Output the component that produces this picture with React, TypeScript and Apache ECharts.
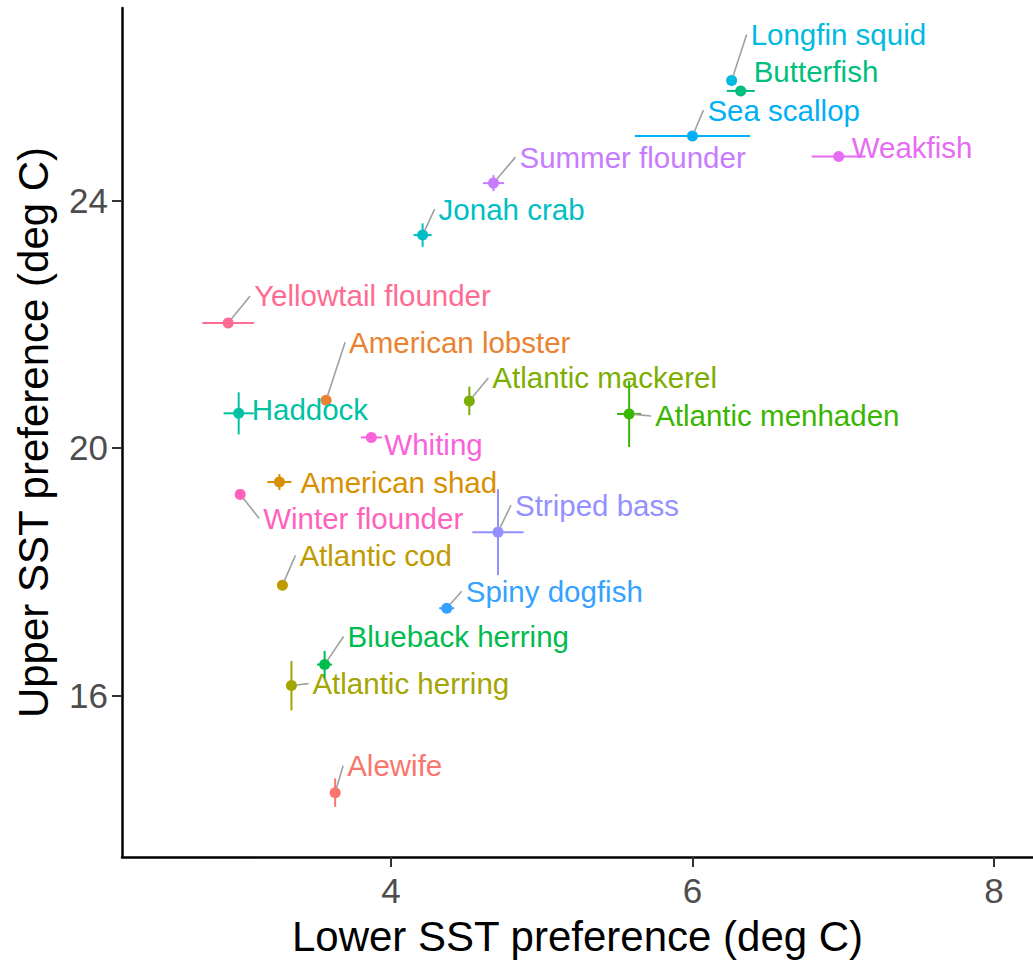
import React, { useEffect, useRef } from "react";
import * as echarts from "echarts";

// Species thermal preference: mean lower and upper SST (deg C) with +/- spread
const species = [
  "Alewife", "American lobster", "American shad", "Atlantic cod", "Atlantic herring",
  "Atlantic mackerel", "Atlantic menhaden", "Blueback herring", "Butterfish", "Haddock",
  "Jonah crab", "Longfin squid", "Sea scallop", "Spiny dogfish", "Striped bass",
  "Summer flounder", "Weakfish", "Whiting", "Winter flounder", "Yellowtail flounder",
];
const lowerPref = [3.63, 3.57, 3.26, 3.28, 3.34, 4.52, 5.58, 3.56, 6.32, 2.99,
  4.21, 6.26, 6.0, 4.37, 4.71, 4.68, 6.97, 3.87, 3.0, 2.92];
const upperPref = [14.43, 20.77, 19.45, 17.78, 16.16, 20.76, 20.55, 16.5, 25.77, 20.56,
  23.44, 25.94, 25.04, 17.41, 18.64, 24.28, 24.71, 20.17, 19.25, 22.02];
const lowerSpread = [0.02, 0.03, 0.08, 0.03, 0.02, 0.02, 0.08, 0.05, 0.093, 0.1,
  0.06, 0.03, 0.382, 0.05, 0.17, 0.07, 0.179, 0.07, 0.02, 0.171];
const upperSpread = [0.23, 0.04, 0.13, 0.05, 0.4, 0.23, 0.535, 0.22, 0.05, 0.34,
  0.19, 0.05, 0.03, 0.08, 0.695, 0.13, 0.03, 0.03, 0.02, 0.03];

const xTicks = [4, 6, 8];
const yTicks = [16, 20, 24];

// ggplot-style hue palette, one colour per species
const palette = [
  "#F8766D", "#EA8331", "#D89000", "#C09B00", "#A3A500", "#7CAE00", "#39B600",
  "#00BB4E", "#00BF7D", "#00C1A3", "#00BFC4", "#00BAE0", "#00B0F6", "#35A2FF",
  "#9590FF", "#C77CFF", "#E76BF3", "#FA62DB", "#FF62BC", "#FF6C91",
];

// Repelled label placement: pixel offset of the label's left/middle from its point,
// and whether a connector segment is drawn
const labelLayout: [number, number, boolean][] = [
  [12, -27, true], [23, -58, true], [21, 0, false], [17, -30, true], [21, -2, true],
  [23, -23, true], [26, 2, true], [23, -28, true], [13, -19, false], [13, -4, false],
  [16, -26, true], [19, -46, true], [15, -26, true], [19, -17, true], [17, -27, true],
  [26, -26, true], [13, -9, false], [13, 7, false], [23, 24, true], [26, -27, true],
];

const FONT = "'Liberation Sans', Arial, Helvetica, sans-serif";

export default function App() {
  const ref = useRef<HTMLDivElement>(null);

  useEffect(() => {
    if (!ref.current) return;
    const chart = echarts.init(ref.current, null, { renderer: "svg" });
    const data = species.map((_, i) => [lowerPref[i], upperPref[i], lowerSpread[i], upperSpread[i]]);

    chart.setOption({
      animation: false,
      backgroundColor: "#ffffff",
      grid: { left: 122, right: 0, top: 8, bottom: 101 },
      xAxis: {
        type: "value",
        min: 2.216,
        max: 8.259,
        name: "Lower SST preference (deg C)",
        nameLocation: "middle",
        nameGap: 58,
        nameTextStyle: { color: "#000", fontSize: 42, fontFamily: FONT },
        axisLine: { show: true, lineStyle: { color: "#000", width: 2.5 } },
        axisTick: { show: true, length: 10, lineStyle: { color: "#333", width: 2 }, customValues: xTicks },
        axisLabel: { color: "#4D4D4D", fontSize: 35, fontFamily: FONT, margin: 16, customValues: xTicks },
        splitLine: { show: false },
      },
      yAxis: {
        type: "value",
        min: 13.39,
        max: 27.11,
        name: "Upper SST preference (deg C)",
        nameLocation: "middle",
        nameGap: 68,
        nameTextStyle: { color: "#000", fontSize: 42, fontFamily: FONT },
        axisLine: { show: true, lineStyle: { color: "#000", width: 2.5 } },
        axisTick: { show: true, length: 10, lineStyle: { color: "#333", width: 2 }, customValues: yTicks },
        axisLabel: { color: "#4D4D4D", fontSize: 35, fontFamily: FONT, margin: 14, customValues: yTicks },
        splitLine: { show: false },
      },
      series: [
        {
          type: "custom",
          clip: false,
          data,
          renderItem: (params: any, api: any) => {
            const i = params.dataIndex;
            const x = api.value(0);
            const y = api.value(1);
            const ex = api.value(2);
            const ey = api.value(3);
            const color = palette[i];
            const c = api.coord([x, y]);
            const l = api.coord([x - ex, y]);
            const r = api.coord([x + ex, y]);
            const t = api.coord([x, y + ey]);
            const b = api.coord([x, y - ey]);
            const [dx, dy, seg] = labelLayout[i];
            const children: any[] = [
              { type: "line", shape: { x1: l[0], y1: l[1], x2: r[0], y2: r[1] }, style: { stroke: color, lineWidth: 2 } },
              { type: "line", shape: { x1: t[0], y1: t[1], x2: b[0], y2: b[1] }, style: { stroke: color, lineWidth: 2 } },
              { type: "circle", shape: { cx: c[0], cy: c[1], r: 5.5 }, style: { fill: color } },
            ];
            if (seg) {
              const ex2 = c[0] + dx - 4;
              const ey2 = c[1] + dy;
              const len = Math.hypot(ex2 - c[0], ey2 - c[1]);
              const ux = (ex2 - c[0]) / len;
              const uy = (ey2 - c[1]) / len;
              children.push({
                type: "line",
                shape: { x1: c[0] + ux * 5, y1: c[1] + uy * 5, x2: ex2, y2: ey2 },
                style: { stroke: "#a0a0a0", lineWidth: 1.6 },
              });
            }
            children.push({
              type: "text",
              style: {
                x: c[0] + dx,
                y: c[1] + dy,
                text: species[i],
                fill: color,
                fontSize: 29.5,
                fontFamily: FONT,
                align: "left",
                verticalAlign: "middle",
              },
            });
            return { type: "group", children };
          },
        },
      ],
    });

    return () => chart.dispose();
  }, []);

  return (
    <div
      ref={ref}
      style={{ position: "fixed", left: 0, top: 0, width: 1033, height: 962, background: "#fff" }}
    />
  );
}
